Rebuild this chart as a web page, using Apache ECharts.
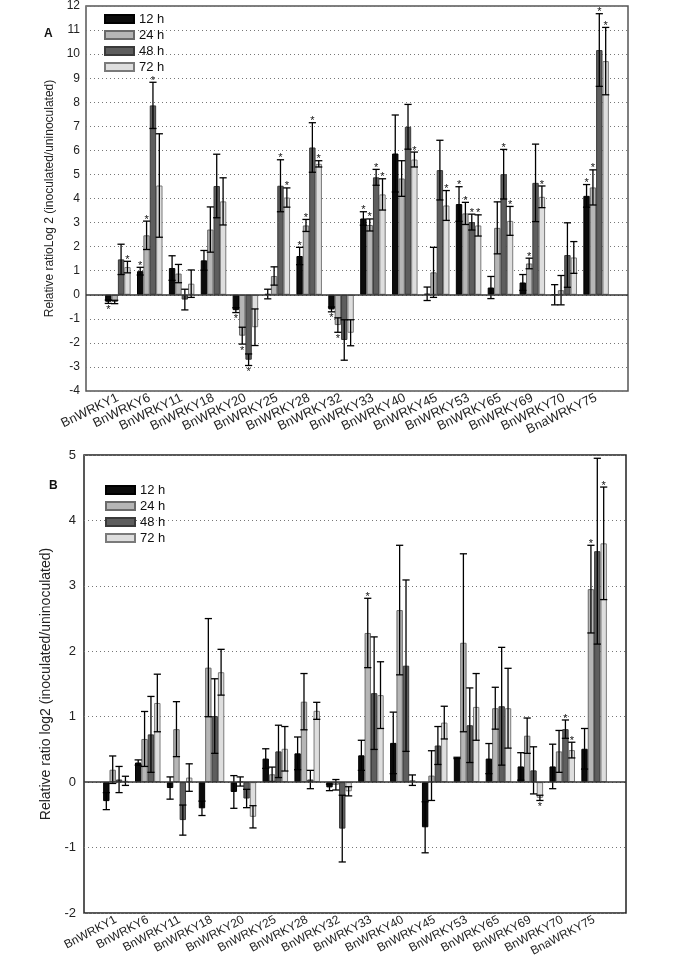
<!DOCTYPE html>
<html>
<head>
<meta charset="utf-8">
<script src="https://cdn.jsdelivr.net/npm/echarts@6/dist/echarts.min.js"></script>
<style>
html,body{margin:0;padding:0;background:#fff;}
#chart{width:685px;height:966px;}
</style>
</head>
<body>
<div id="chart"></div>
<script>
// ---------- data ----------
var genes = ['BnWRKY1','BnWRKY6','BnWRKY11','BnWRKY18','BnWRKY20','BnWRKY25','BnWRKY28','BnWRKY32','BnWRKY33','BnWRKY40','BnWRKY45','BnWRKY53','BnWRKY65','BnWRKY69','BnWRKY70','BnaWRKY75'];
var times = ['12 h','24 h','48 h','72 h'];

// Panel A values (log2 ratio)
var A_h12 = [-0.29, 0.98, 1.11, 1.43, -0.64, 0.03, 1.61, -0.61, 3.17, 5.87, 0.04, 3.77, 0.30, 0.51, 0.00, 4.11];
var A_h24 = [-0.30, 2.47, 0.88, 2.71, -1.70, 0.78, 2.88, -1.26, 2.90, 4.83, 0.93, 3.38, 2.78, 1.30, 0.19, 4.46];
var A_h48 = [1.47, 7.87, -0.20, 4.52, -2.70, 4.53, 6.12, -1.88, 4.88, 6.98, 5.18, 3.02, 5.01, 4.65, 1.65, 10.17];
var A_h72 = [1.15, 4.54, 0.46, 3.88, -1.35, 4.04, 5.44, -1.58, 4.17, 5.62, 3.71, 2.88, 3.07, 4.07, 1.55, 9.71];
// Panel A error (SE)
var A_e12 = [0.07, 0.16, 0.51, 0.41, 0.10, 0.20, 0.36, 0.10, 0.28, 1.60, 0.28, 0.72, 0.46, 0.33, 0.42, 0.47];
var A_e24 = [0.07, 0.59, 0.38, 0.94, 0.35, 0.38, 0.25, 0.30, 0.25, 0.74, 1.04, 0.46, 1.08, 0.22, 0.61, 0.73];
var A_e48 = [0.63, 0.96, 0.43, 1.32, 0.24, 1.08, 1.03, 0.84, 0.33, 0.93, 1.24, 0.33, 1.03, 1.61, 1.34, 1.51];
var A_e72 = [0.24, 2.15, 0.57, 0.98, 0.76, 0.40, 0.13, 0.54, 0.65, 0.31, 0.62, 0.44, 0.60, 0.45, 0.66, 1.40];
// Panel A significance (1 = asterisk)
var A_s12 = [1,1,0,0,1,0,1,1,1,0,0,1,0,0,0,1];
var A_s24 = [0,1,0,0,1,0,1,1,1,0,0,1,0,1,0,1];
var A_s48 = [0,1,0,0,1,1,1,0,1,0,0,1,1,0,0,1];
var A_s72 = [1,0,0,0,0,1,1,0,1,1,1,1,1,1,0,1];

// Panel B values
var B_h12 = [-0.29, 0.30, -0.09, -0.40, -0.15, 0.36, 0.44, -0.08, 0.41, 0.60, -0.69, 0.37, 0.36, 0.24, 0.24, 0.51];
var B_h24 = [0.19, 0.66, 0.81, 1.75, 0.01, 0.12, 1.23, -0.04, 2.28, 2.63, 0.10, 2.13, 1.13, 0.71, 0.47, 2.95];
var B_h48 = [0.04, 0.73, -0.58, 1.01, -0.25, 0.47, 0.04, -0.71, 1.36, 1.78, 0.56, 0.87, 1.16, 0.18, 0.81, 3.53];
var B_h72 = [0.02, 1.21, 0.07, 1.68, -0.53, 0.51, 1.09, -0.14, 1.33, 0.03, 0.91, 1.15, 1.13, -0.24, 0.49, 3.65];
// Panel B error
var B_e12 = [0.13, 0.04, 0.17, 0.11, 0.25, 0.15, 0.25, 0.05, 0.23, 0.47, 0.39, 0.01, 0.23, 0.21, 0.34, 0.31];
var B_e24 = [0.21, 0.42, 0.42, 0.75, 0.07, 0.11, 0.43, 0.08, 0.53, 0.99, 0.38, 1.36, 0.32, 0.27, 0.32, 0.67];
var B_e48 = [0.20, 0.58, 0.23, 0.57, 0.14, 0.40, 0.14, 0.51, 0.86, 1.31, 0.29, 0.57, 0.90, 0.36, 0.14, 1.42];
var B_e72 = [0.07, 0.44, 0.21, 0.35, 0.17, 0.34, 0.13, 0.07, 0.51, 0.08, 0.25, 0.51, 0.61, 0.04, 0.12, 0.86];
// Panel B significance
var B_s12 = [0,0,0,0,0,0,0,0,0,0,0,0,0,0,0,0];
var B_s24 = [0,0,0,0,0,0,0,0,1,0,0,0,0,0,0,1];
var B_s48 = [0,0,0,0,0,0,0,0,0,0,0,0,0,0,1,0];
var B_s72 = [0,0,0,0,0,0,0,0,0,0,0,0,0,1,1,1];

// ---------- styles ----------
var fills = ['#0c0c0c', '#b6b6b6', '#5e5e5e', '#dedede'];
var borders = ['#000000', '#6a6a6a', '#3a3a3a', '#7a7a7a'];
var CAT_GAP = 0.2;

var chart = echarts.init(document.getElementById('chart'), null, {renderer: 'canvas'});

function barData(vals) { return vals.map(function (v, i) { return [i, v]; }); }
function errData(vals, errs, sigs) { return vals.map(function (v, i) { return [i, v, errs[i], sigs[i]]; }); }

function makeErrRender(sIdx) {
  return function (params, api) {
    var x = api.value(0), v = api.value(1), e = api.value(2), sig = api.value(3);
    var unit = api.size([1, 0])[0];
    var groupW = unit * (1 - CAT_GAP);
    var barW = groupW / 4;
    var off = -groupW / 2 + (sIdx + 0.5) * barW;
    var pHi = api.coord([x, v + e]);
    var pLo = api.coord([x, v - e]);
    var cx = pHi[0] + off;
    var cap = 3.6;
    var st = {stroke: '#000', lineWidth: 1.3};
    var children = [
      {type: 'line', shape: {x1: cx, y1: pHi[1], x2: cx, y2: pLo[1]}, style: st},
      {type: 'line', shape: {x1: cx - cap, y1: pHi[1], x2: cx + cap, y2: pHi[1]}, style: st},
      {type: 'line', shape: {x1: cx - cap, y1: pLo[1], x2: cx + cap, y2: pLo[1]}, style: st}
    ];
    if (sig) {
      var up = v >= 0;
      children.push({
        type: 'text',
        style: {
          text: '*', x: cx, y: up ? pHi[1] - 7 : pLo[1] + 1,
          fill: '#111', font: '11px Liberation Sans, Arial, sans-serif',
          align: 'center', verticalAlign: 'top'
        }
      });
    }
    return {type: 'group', children: children};
  };
}

function panelSeries(gi, vals, errs, sigs) {
  var out = [];
  for (var s = 0; s < 4; s++) {
    var bs = {
      name: times[s], type: 'bar', xAxisIndex: gi, yAxisIndex: gi,
      data: barData(vals[s]),
      barGap: '0%', barCategoryGap: (CAT_GAP * 100) + '%',
      itemStyle: {color: fills[s], borderColor: borders[s], borderWidth: 1},
      emphasis: {disabled: true}, animation: false, z: 2
    };
    if (s === 0) {
      bs.markLine = {
        silent: true, symbol: 'none', animation: false,
        label: {show: false},
        lineStyle: {color: '#333', type: 'solid', width: 1.5},
        data: [{yAxis: 0}]
      };
    }
    out.push(bs);
  }
  for (var t = 0; t < 4; t++) {
    out.push({
      type: 'custom', xAxisIndex: gi, yAxisIndex: gi,
      data: errData(vals[t], errs[t], sigs[t]),
      renderItem: makeErrRender(t), z: 3, animation: false, silent: true
    });
  }
  return out;
}

var labelFont = 'Liberation Sans';

var option = {
  backgroundColor: '#ffffff',
  animation: false,
  textStyle: {fontFamily: labelFont},
  title: [
    {text: 'A', left: 39, top: 23, textStyle: {fontSize: 12, fontWeight: 'bold', color: '#111', fontFamily: labelFont}},
    {text: 'B', left: 44, top: 475, textStyle: {fontSize: 12, fontWeight: 'bold', color: '#111', fontFamily: labelFont}}
  ],
  legend: [
    {data: times, orient: 'vertical', left: 99, top: 7, itemWidth: 29, itemHeight: 8, itemGap: 2,
     icon: 'rect', textStyle: {fontSize: 13, color: '#111', lineHeight: 14}, selectedMode: false},
    {data: times, orient: 'vertical', left: 100, top: 478, itemWidth: 29, itemHeight: 8, itemGap: 2,
     icon: 'rect', textStyle: {fontSize: 13, color: '#111', lineHeight: 14}, selectedMode: false}
  ],
  grid: [
    {left: 86, top: 6, width: 542, height: 385, show: true, borderColor: '#555', borderWidth: 1.5, backgroundColor: 'transparent'},
    {left: 84, top: 455, width: 542, height: 458, show: true, borderColor: '#222', borderWidth: 1.5, backgroundColor: 'transparent'}
  ],
  xAxis: [
    {type: 'value', gridIndex: 0, min: -1, max: 16, interval: 1,
     axisLine: {show: false}, axisTick: {show: false}, splitLine: {show: false},
     axisLabel: {rotate: 26, fontSize: 13, color: '#222', margin: 6,
       formatter: function (v) { return genes[v] || ''; }}},
    {type: 'value', gridIndex: 1, min: -1, max: 16, interval: 1,
     axisLine: {show: false}, axisTick: {show: false}, splitLine: {show: false},
     axisLabel: {rotate: 28, fontSize: 12, color: '#222', margin: 6,
       formatter: function (v) { return genes[v] || ''; }}}
  ],
  yAxis: [
    {type: 'value', gridIndex: 0, min: -4, max: 12, interval: 1,
     name: 'Relative ratioLog 2 (inoculated/uninoculated)', nameLocation: 'middle', nameGap: 30,
     nameTextStyle: {fontSize: 12, color: '#222'},
     axisLine: {show: false}, axisTick: {show: false},
     axisLabel: {fontSize: 12, color: '#222', margin: 6},
     splitLine: {show: true, lineStyle: {color: '#777', type: [1, 3], width: 1}}},
    {type: 'value', gridIndex: 1, min: -2, max: 5, interval: 1,
     name: 'Relative ratio log2 (inoculated/uninoculated)', nameLocation: 'middle', nameGap: 24,
     nameTextStyle: {fontSize: 14, color: '#222'},
     axisLine: {show: false}, axisTick: {show: false},
     axisLabel: {fontSize: 13, color: '#222', margin: 8},
     splitLine: {show: true, lineStyle: {color: '#777', type: [1, 3], width: 1}}}
  ],
  series: [].concat(
    panelSeries(0, [A_h12, A_h24, A_h48, A_h72], [A_e12, A_e24, A_e48, A_e72], [A_s12, A_s24, A_s48, A_s72]),
    panelSeries(1, [B_h12, B_h24, B_h48, B_h72], [B_e12, B_e24, B_e48, B_e72], [B_s12, B_s24, B_s48, B_s72])
  )
};
chart.setOption(option);
</script>
</body>
</html>
